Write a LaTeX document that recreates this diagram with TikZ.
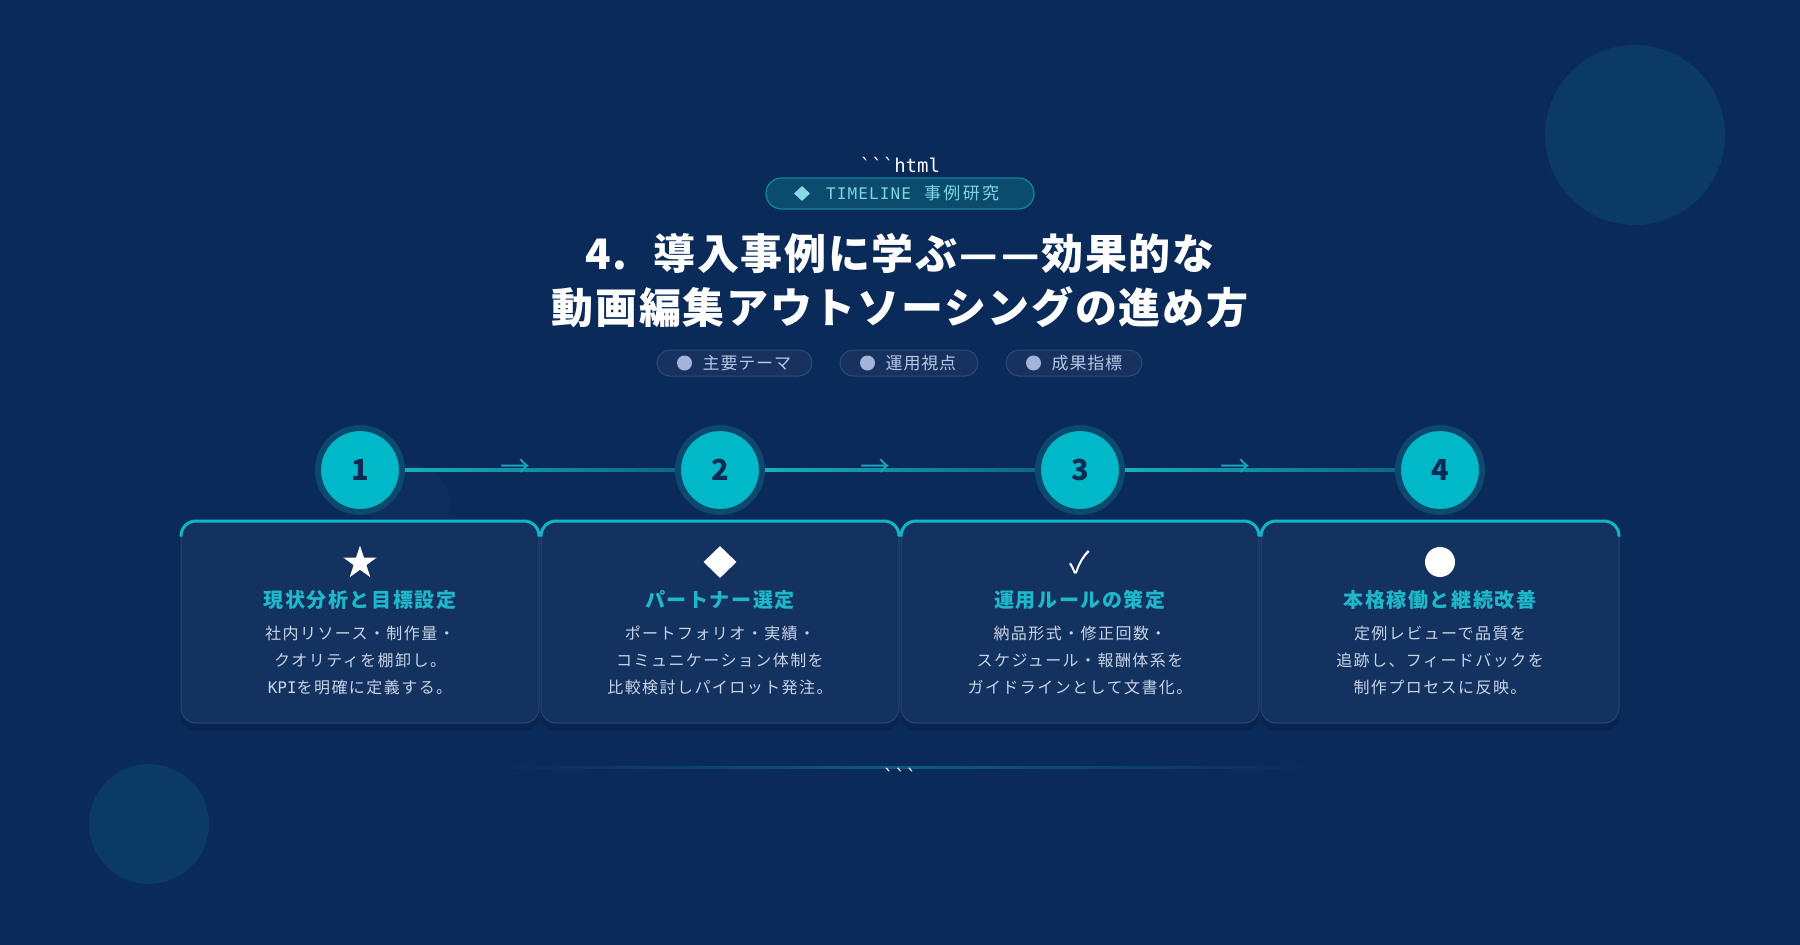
\documentclass[tikz,border=0pt]{standalone}
\usepackage{fontspec}
\usetikzlibrary{shapes.geometric,calc}
\newfontfamily\jp{Noto Sans CJK JP}
\newfontfamily\jptitle[LetterSpace=4]{Noto Sans CJK JP}
\newfontfamily\jpcard[LetterSpace=8]{Noto Sans CJK JP}
\newfontfamily\jpbody[LetterSpace=9]{Noto Sans CJK JP}
\newfontfamily\jppill[LetterSpace=5]{Noto Sans CJK JP}
\newfontfamily\jpbadge[LetterSpace=14]{Noto Sans CJK JP}
\newfontfamily\monof{DejaVu Sans Mono}
\newfontfamily\monols[LetterSpace=7]{DejaVu Sans Mono}
\definecolor{bg}{HTML}{0A2A5A}
\definecolor{deco}{HTML}{0B3A64}
\definecolor{badgefill}{HTML}{0B4C6E}
\definecolor{badgeline}{HTML}{1286A0}
\definecolor{badgetext}{HTML}{7CD6E2}
\definecolor{pillfill}{HTML}{17325F}
\definecolor{pillline}{HTML}{2B4A78}
\definecolor{pilldot}{HTML}{A3B3D9}
\definecolor{pilltext}{HTML}{B8C6E2}
\definecolor{stepcyan}{HTML}{00B8C7}
\definecolor{ring}{HTML}{0B4A6E}
\definecolor{numcol}{HTML}{0B2A55}
\definecolor{linecol}{HTML}{0F7F9A}
\definecolor{linebright}{HTML}{14B0C2}
\definecolor{linedim}{HTML}{0E6688}
\definecolor{arrowcol}{HTML}{1AA4B8}
\definecolor{cardfill}{HTML}{14325F}
\definecolor{cardline}{HTML}{28466F}
\definecolor{cardtop}{HTML}{10B6C6}
\definecolor{cardtitle}{HTML}{1DB9CA}
\definecolor{bodytext}{HTML}{C8D3E6}
\definecolor{glowline}{HTML}{0F5A80}
\tikzset{
  pill/.style={draw=pillline, fill=pillfill, line width=1pt, rounded corners=13pt, minimum height=26pt, inner sep=0pt},
  pilldotst/.style={circle, fill=pilldot, minimum size=15pt, inner sep=0pt},
  pilltxt/.style={anchor=west, text=pilltext, font=\jppill\fontsize{17}{20}\selectfont, inner sep=0pt},
  stepcirc/.style={circle, fill=stepcyan, draw=ring, line width=6pt, minimum size=84pt, inner sep=0pt, text=numcol, font=\jp\bfseries\fontsize{29}{30}\selectfont},
  conn/.style={draw=linecol, line width=2.5pt},
  arrlbl/.style={text=arrowcol, font=\jp\fontsize{30}{30}\selectfont, inner sep=0pt},
  card/.style={draw=cardline, fill=cardfill, line width=1pt, rounded corners=15pt, minimum width=358pt, minimum height=202pt, inner sep=0pt},
  cardacc/.style={draw=cardtop, line width=3pt, rounded corners=15pt},
  cardttl/.style={text=cardtitle, font=\jpcard\bfseries\fontsize{20}{24}\selectfont, inner sep=0pt},
  cardbody/.style={text=bodytext, font=\jpbody\fontsize{16}{27}\selectfont, align=center, inner sep=0pt},
  iconst/.style={fill=white, inner sep=0pt}
}
\begin{document}
\begin{tikzpicture}[x=1pt, y=-1pt]
\useasboundingbox (0,0) rectangle (1800,945);
\fill[bg] (0,0) rectangle (1800,945);
% decorative circles
\fill[deco] (1635,135) circle[radius=90pt];
\fill[deco] (149,824) circle[radius=60pt];
\fill[white, opacity=0.02] (410,505) circle[radius=40pt];

% header
\node[text=white, font=\monof\fontsize{19}{22}\selectfont, inner sep=0pt] (code1) at (900,165) {`\kern0pt`\kern0pt`html};
\node[draw=badgeline, fill=badgefill, line width=1.2pt, rounded corners=15.5pt, minimum width=268pt, minimum height=31pt, inner sep=0pt] (badge) at (900,193.5) {};
\node[diamond, fill=badgetext!90!white, minimum width=16pt, minimum height=15pt, inner sep=0pt] (bdia) at (802,193.5) {};
\node[anchor=west, text=badgetext, inner sep=0pt] (btxt) at (826,193.5) {\monols\fontsize{16}{20}\selectfont TIMELINE\hspace{13pt}\jpbadge\fontsize{17}{20}\selectfont 事例研究};

\node[text=white, font=\jptitle\bfseries\fontsize{42}{48}\selectfont, inner sep=0pt] (t1) at (900,253) {4.\hspace{26pt}導入事例に学ぶ—\hspace{4pt}—効果的な};
\node[text=white, font=\jptitle\bfseries\fontsize{42}{48}\selectfont, inner sep=0pt] (t2) at (900,307) {動画編集アウトソーシングの進め方};

% pills
\node[pill, minimum width=155pt] (p1) at (734.5,363) {};
\node[pill, minimum width=138pt] (p2) at (909,363) {};
\node[pill, minimum width=136pt] (p3) at (1074,363) {};
\node[pilldotst] (d1) at ($(p1.west)+(28,0)$) {};
\node[pilldotst] (d2) at ($(p2.west)+(28,0)$) {};
\node[pilldotst] (d3) at ($(p3.west)+(28,0)$) {};
\node[pilltxt] (pt1) at ($(p1.west)+(46,0)$) {主要テーマ};
\node[pilltxt] (pt2) at ($(p2.west)+(46,0)$) {運用視点};
\node[pilltxt] (pt3) at ($(p3.west)+(46,0)$) {成果指標};

% step circles
\node[stepcirc] (c1) at (360,470) {1};
\node[stepcirc] (c2) at (720,470) {2};
\node[stepcirc] (c3) at (1080,470) {3};
\node[stepcirc] (c4) at (1440,470) {4};
\foreach \a/\b in {c1/c2,c2/c3,c3/c4}{
  \draw[conn] (\a) -- (\b);
  \shade[left color=linebright, right color=linedim] ($(\a.east)+(0,-1.25)$) rectangle ($(\b.west)+(0,1.25)$);
}
\path (c1) -- (c2) node[arrlbl, pos=0.41, yshift=1.5pt] (a1) {→};
\path (c2) -- (c3) node[arrlbl, pos=0.41, yshift=1.5pt] (a2) {→};
\path (c3) -- (c4) node[arrlbl, pos=0.41, yshift=1.5pt] (a3) {→};

% cards
\foreach \i/\x in {1/360,2/720,3/1080,4/1440}{
  \fill[black, opacity=0.12, rounded corners=15pt] (\x-179,527) rectangle (\x+179,731);
  \node[card] (k\i) at (\x,622) {};
  \draw[cardacc] ($(k\i.north west)+(0.5,16)$) -- ($(k\i.north west)+(0.5,0.5)$) -- ($(k\i.north east)+(-0.5,0.5)$) -- ($(k\i.north east)+(-0.5,16)$);
}

% icons
\node[star, star points=5, star point ratio=2.6, minimum size=35pt, iconst] (i1) at (360,563) {};
\node[diamond, minimum width=33pt, minimum height=32pt, iconst] (i2) at (720,562) {};
\node[text=white, font=\jp\fontsize{30}{32}\selectfont, inner sep=0pt] (i3) at (1080,562) {✓};
\node[circle, minimum size=30pt, iconst] (i4) at (1440,562) {};

% titles
\node[cardttl] (h1) at (360,600) {現状分析と目標設定};
\node[cardttl] (h2) at (720,600) {パートナー選定};
\node[cardttl] (h3) at (1080,600) {運用ルールの策定};
\node[cardttl] (h4) at (1440,600) {本格稼働と継続改善};

% bodies
\node[cardbody] (b1) at (360,660) {社内リソース・制作量・\\クオリティを棚卸し。\\{\monof KPI}を明確に定義する。};
\node[cardbody] (b2) at (720,660) {ポートフォリオ・実績・\\コミュニケーション体制を\\比較検討しパイロット発注。};
\node[cardbody] (b3) at (1080,660) {納品形式・修正回数・\\スケジュール・報酬体系を\\ガイドラインとして文書化。};
\node[cardbody] (b4) at (1440,660) {定例レビューで品質を\\追跡し、フィードバックを\\制作プロセスに反映。};

% bottom
\shade[left color=bg, right color=bg, middle color=glowline] (494,766) rectangle (1320,768);
\node[text=white, font=\monof\fontsize{19}{22}\selectfont, inner sep=0pt] (code2) at (900,776) {`\kern0pt`\kern0pt`};
\end{tikzpicture}
\end{document}
